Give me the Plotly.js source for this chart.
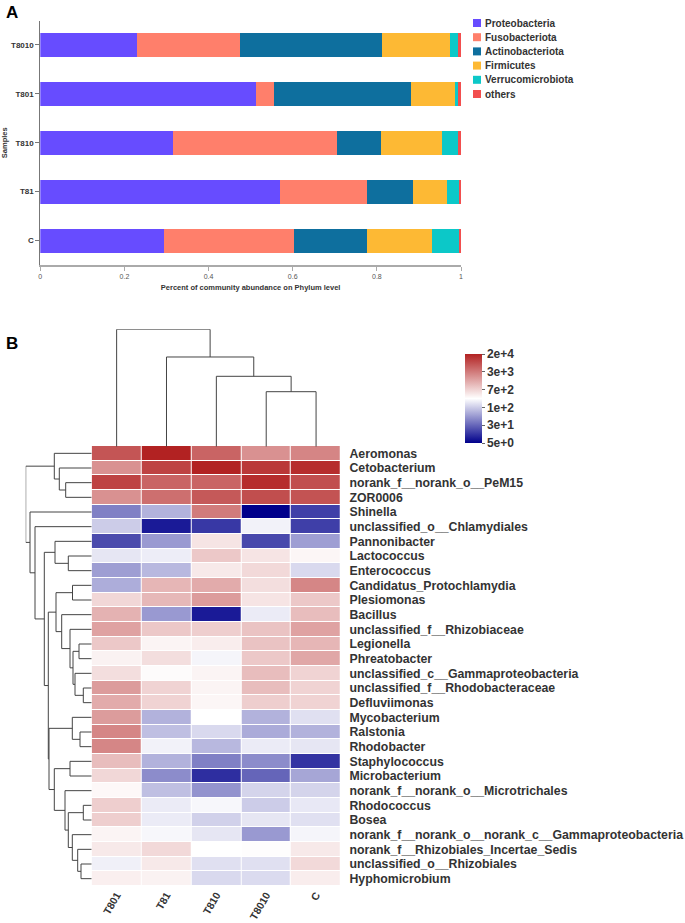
<!DOCTYPE html>
<html>
<head>
<meta charset="utf-8">
<script src="https://cdn.plot.ly/plotly-3.0.1.min.js"></script>
<style>
html,body{margin:0;padding:0;background:#fff;}
#chart{width:685px;height:923px;}
</style>
</head>
<body>
<div id="chart"></div>
<script>
// ---------- Panel A data ----------
const phyla = ['Proteobacteria','Fusobacteriota','Actinobacteriota','Firmicutes','Verrucomicrobiota','others'];
const phylumColors = ['#674CFF','#FF7F6B','#0E6F9E','#FDB934','#0CC8C8','#F24E4E'];
const samplesA = ['T8010','T801','T810','T81','C'];
const proteobacteria = [0.229, 0.512, 0.315, 0.570, 0.293];
const fusobacteriota = [0.246, 0.044, 0.390, 0.207, 0.310];
const actinobacteriota = [0.338, 0.324, 0.104, 0.108, 0.174];
const firmicutes = [0.161, 0.106, 0.146, 0.082, 0.154];
const verrucomicrobiota = [0.018, 0.007, 0.037, 0.029, 0.064];
const othersA = [0.008, 0.007, 0.008, 0.004, 0.005];
const xTicksA = [0, 0.2, 0.4, 0.6, 0.8, 1];

// ---------- Panel B data ----------
const heatCols = ['T801','T81','T810','T8010','C'];
const genera = ['Aeromonas','Cetobacterium','norank_f__norank_o__PeM15','ZOR0006','Shinella',
 'unclassified_o__Chlamydiales','Pannonibacter','Lactococcus','Enterococcus','Candidatus_Protochlamydia',
 'Plesiomonas','Bacillus','unclassified_f__Rhizobiaceae','Legionella','Phreatobacter',
 'unclassified_c__Gammaproteobacteria','unclassified_f__Rhodobacteraceae','Defluviimonas','Mycobacterium','Ralstonia',
 'Rhodobacter','Staphylococcus','Microbacterium','norank_f__norank_o__Microtrichales','Rhodococcus',
 'Bosea','norank_f__norank_o__norank_c__Gammaproteobacteria','norank_f__Rhizobiales_Incertae_Sedis','unclassified_o__Rhizobiales','Hyphomicrobium'];
const abT801  = [7700, 2500, 10700, 2500, 40, 138, 17, 209, 65, 84, 667, 1349, 1803, 891, 406, 589, 2042, 1528, 2042, 3090, 3090, 1096, 667, 358, 787, 787, 389, 479, 247, 423];
const abT81   = [20000, 10700, 5750, 4700, 91, 7.6, 60, 237, 99, 1242, 1191, 60, 891, 389, 589, 344, 724, 724, 91, 112, 257, 91, 49, 112, 227, 227, 279, 640, 479, 406];
const abT810  = [5750, 20000, 5750, 7100, 3800, 12.5, 520, 891, 479, 1528, 2042, 7.6, 787, 441, 268, 389, 389, 373, 316, 170, 99, 40, 10.6, 55, 279, 150, 209, 316, 192, 170];
const abT8010 = [2500, 13200, 16200, 8700, 5, 257, 16, 520, 640, 589, 520, 227, 968, 968, 891, 1096, 1096, 787, 91, 81, 227, 49, 26, 156, 138, 209, 60, 330, 192, 177];
const abC     = [3100, 16200, 8700, 8000, 14, 14, 65, 373, 170, 3090, 891, 1096, 1803, 1242, 1660, 724, 724, 724, 192, 91, 209, 11.5, 74, 156, 218, 192, 268, 479, 640, 441];
const colorbarLabels = ['5e+0','3e+1','1e+2','7e+2','3e+3','2e+4'];
const colorMin = 5, colorMax = 20000;

// column clustering (leaves 0..4, new nodes 5..)
const colLinkA = [3, 2, 1, 0];
const colLinkB = [4, 5, 6, 7];
const colLinkH = [55, 70.4, 89.7, 117.4];
// row clustering (leaves 0..29, new nodes 30..)
const rowLinkA = [2, 1, 0, 7, 6, 9, 13, 16, 15, 36, 12, 11, 35, 19, 18, 21, 28, 27, 26, 24, 49, 23, 45, 44, 42, 34, 5, 4, 32];
const rowLinkB = [3, 30, 31, 8, 33, 10, 14, 17, 37, 38, 39, 40, 41, 20, 43, 22, 29, 46, 47, 25, 48, 50, 51, 52, 53, 54, 55, 56, 57];
const rowLinkH = [26, 32.4, 37.4, 23.4, 36.7, 19.2, 12.7, 8.4, 16.7, 18.7, 21.7, 30, 35.7, 11.7, 19.4, 21.7, 10.7, 14, 19.4, 8.4, 23.4, 26.7, 37.4, 42.7, 43.4, 47.4, 56.7, 61.7, 66];

// ---------- helpers ----------
const W = 685, H = 923;
const px = v => v / W;
const py = v => 1 - v / H;
const FONT = 'Liberation Sans, Arial, sans-serif';

function dendro(nLeaves, A, B, Hs) {
  const pos = [], hh = [];
  for (let i = 0; i < nLeaves; i++) { pos.push(i); hh.push(0); }
  const p = [], h = [];
  for (let i = 0; i < A.length; i++) {
    const a = A[i], b = B[i], Hm = Hs[i];
    pos.push((pos[a] + pos[b]) / 2); hh.push(Hm);
    p.push(pos[a], pos[a], pos[b], pos[b], null);
    h.push(hh[a], Hm, Hm, hh[b], null);
  }
  return {p, h};
}

const traces = [];
const seriesA = [proteobacteria, fusobacteriota, actinobacteriota, firmicutes, verrucomicrobiota, othersA];
seriesA.forEach((s, i) => {
  traces.push({
    type: 'bar', orientation: 'h', x: s, y: samplesA, name: phyla[i],
    marker: {color: phylumColors[i], line: {width: 0}},
    xaxis: 'x', yaxis: 'y', showlegend: false, hoverinfo: 'x+name'
  });
});

// heatmap
const cols = [abT801, abT81, abT810, abT8010, abC];
const z = genera.map((g, r) => cols.map(c => Math.log10(c[r])));
const zmin = Math.log10(colorMin), zmax = Math.log10(colorMax);
const tickvals = colorbarLabels.map((_, i) => zmin + i * (zmax - zmin) / (colorbarLabels.length - 1));
traces.push({
  type: 'heatmap', x: heatCols, y: genera, z: z, xaxis: 'x2', yaxis: 'y2',
  zmin: zmin, zmax: zmax, xgap: 1, ygap: 1,
  colorscale: [[0, '#00008B'], [0.5, '#FFFFFF'], [1, '#B22222']],
  colorbar: {
    x: px(465), xanchor: 'left', y: py(398.5), yanchor: 'middle',
    thickness: 17, thicknessmode: 'pixels', len: 89, lenmode: 'pixels',
    xpad: 0, ypad: 0, outlinewidth: 0,
    tickvals: tickvals, ticktext: colorbarLabels, ticks: 'outside', ticklen: 3, tickcolor: '#666',
    tickfont: {family: FONT, size: 12, color: '#333', weight: 'bold'}
  }
});

// column dendrogram
const cd = dendro(heatCols.length, colLinkA, colLinkB, colLinkH);
traces.push({type: 'scatter', mode: 'lines', x: cd.p, y: cd.h, xaxis: 'x3', yaxis: 'y3',
  line: {color: '#444', width: 1}, showlegend: false, hoverinfo: 'skip', connectgaps: false});
// row dendrogram
const rd = dendro(genera.length, rowLinkA, rowLinkB, rowLinkH);
traces.push({type: 'scatter', mode: 'lines', x: rd.h, y: rd.p, xaxis: 'x4', yaxis: 'y4',
  line: {color: '#444', width: 1}, showlegend: false, hoverinfo: 'skip', connectgaps: false});

// legend (manual)
const shapes = [], annotations = [];
phyla.forEach((name, i) => {
  const cy = 23 + i * 14.2;
  shapes.push({type: 'rect', xref: 'paper', yref: 'paper', x0: px(473), x1: px(481), y0: py(cy + 4), y1: py(cy - 4),
    fillcolor: phylumColors[i], line: {width: 0}});
  annotations.push({xref: 'paper', yref: 'paper', x: px(483), y: py(cy), xanchor: 'left', yanchor: 'middle',
    text: name, showarrow: false, font: {family: FONT, size: 10, color: '#333', weight: 'bold'}});
});
annotations.push({xref: 'paper', yref: 'paper', x: px(4), y: py(13), xanchor: 'left', yanchor: 'middle',
  text: 'A', showarrow: false, font: {family: FONT, size: 17, color: '#000', weight: 'bold'}});
annotations.push({xref: 'paper', yref: 'paper', x: px(4), y: py(343), xanchor: 'left', yanchor: 'middle',
  text: 'B', showarrow: false, font: {family: FONT, size: 17, color: '#000', weight: 'bold'}});

const hmX = [px(91.7), px(341)];
const hmY = [py(886), py(446)];

const layout = {
  width: W, height: H, margin: {l: 0, r: 0, t: 0, b: 0},
  paper_bgcolor: '#fff', plot_bgcolor: 'rgba(0,0,0,0)',
  barmode: 'stack', bargap: 0.51, showlegend: false,
  font: {family: FONT},
  xaxis: {domain: [px(40.3), px(461)], anchor: 'y', range: [0, 1], tickvals: xTicksA,
    ticktext: xTicksA.map(v => String(v)),
    showgrid: false, zeroline: false, showline: true, linecolor: '#aaa', linewidth: 1.5,
    ticks: 'outside', ticklen: 4, tickcolor: '#aaa',
    tickfont: {family: FONT, size: 7, color: '#555'},
    title: {text: 'Percent of community abundance on Phylum level', standoff: 6,
      font: {family: FONT, size: 7.5, color: '#333', weight: 'bold'}}},
  yaxis: {domain: [py(265), py(20.5)], anchor: 'x', autorange: 'reversed', showgrid: false, zeroline: false,
    showline: true, linecolor: '#777', linewidth: 1, ticks: 'outside', ticklen: 4, tickcolor: '#777',
    tickfont: {family: FONT, size: 8, color: '#333', weight: 'bold'},
    title: {text: 'Samples', standoff: 3, font: {family: FONT, size: 7.5, color: '#333', weight: 'bold'}}},
  xaxis2: {domain: hmX, anchor: 'y2', showgrid: false, zeroline: false, showline: false,
    tickmode: 'array', tickvals: heatCols, ticktext: heatCols,
    ticks: '', tickangle: -60, ticklabelstandoff: 0,
    tickfont: {family: FONT, size: 10.5, color: '#333', weight: 'bold'}},
  yaxis2: {domain: hmY, anchor: 'x2', side: 'right', range: [genera.length - 0.5, -0.5],
    tickmode: 'array', tickvals: genera, ticktext: genera,
    showgrid: false, zeroline: false, showline: false,
    ticks: 'outside', ticklen: 5, tickcolor: 'rgba(0,0,0,0)',
    tickfont: {family: FONT, size: 12.3, color: '#333', weight: 'bold'}},
  xaxis3: {domain: hmX, anchor: 'y3', range: [-0.5, heatCols.length - 0.5], visible: false},
  yaxis3: {domain: [py(446.7), py(329.3)], anchor: 'x3', range: [0, Math.max(...colLinkH)], visible: false},
  xaxis4: {domain: [px(25.7), px(91.7)], anchor: 'y4', range: [Math.max(...rowLinkH), 0], visible: false},
  yaxis4: {domain: hmY, anchor: 'x4', range: [genera.length - 0.5, -0.5], visible: false},
  shapes: shapes, annotations: annotations
};

Plotly.newPlot('chart', traces, layout, {displayModeBar: false, staticPlot: true});
</script>
</body>
</html>
